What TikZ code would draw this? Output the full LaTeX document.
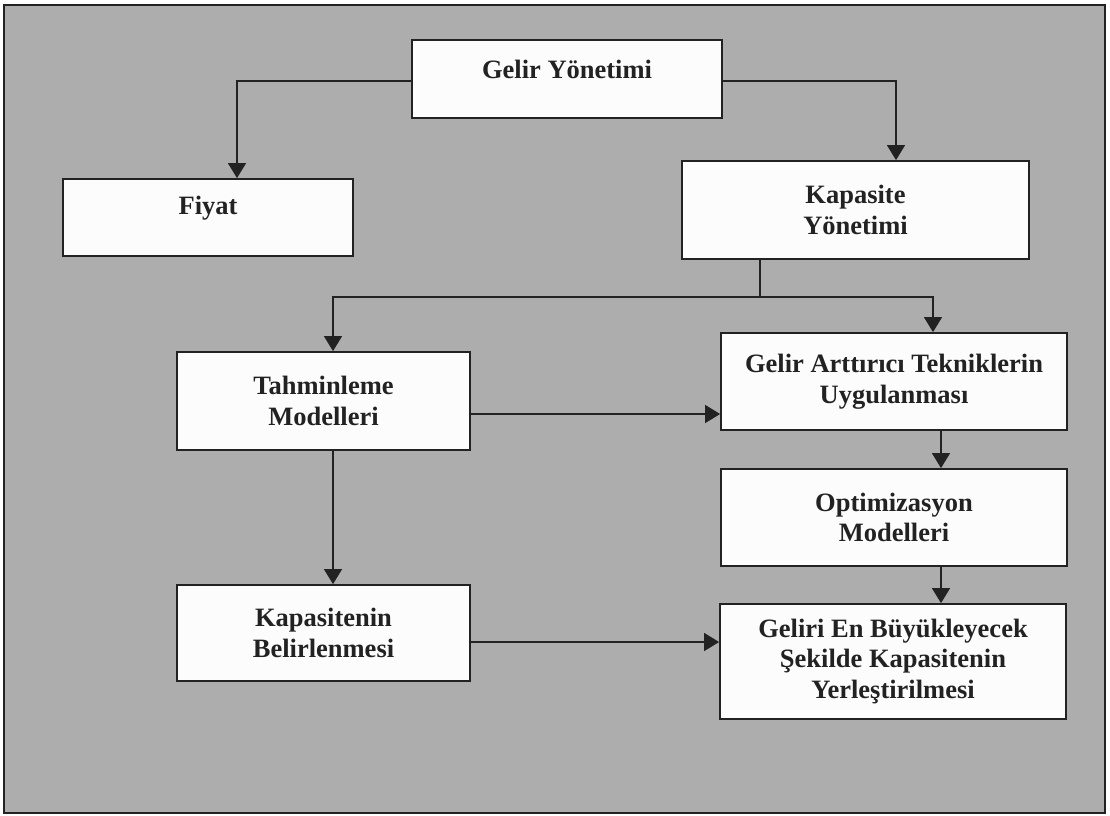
\documentclass[tikz,border=0pt]{standalone}
\usepackage{fontspec}
\setmainfont{Liberation Serif}
\usetikzlibrary{arrows.meta}
\definecolor{panelgray}{HTML}{ADADAD}
\definecolor{ink}{HTML}{222222}
\definecolor{boxfill}{HTML}{FCFCFC}
\tikzset{
  flowbox/.style={draw=ink, line width=1.8pt, fill=boxfill, inner sep=0pt,
    align=center, text=ink, font=\bfseries\fontsize{26.5}{30.5}\selectfont},
  boxlabel/.style={text=ink, inner sep=0pt, align=center,
    font=\bfseries\fontsize{26.5}{30.5}\selectfont},
  link/.style={draw=ink, line width=1.4pt},
  arr/.style={link, -{Triangle[width=18pt,length=15pt]}},
}
\begin{document}
\begin{tikzpicture}[x=1pt, y=-1pt]
  % page and grey panel
  \useasboundingbox (0,0) rectangle (1110,815);
  \fill[white] (0,0) rectangle (1110,815);
  \draw[draw=ink, line width=2pt, fill=panelgray] (4,5) rectangle (1105,813);

  % boxes
  \node[flowbox, minimum width=310pt, minimum height=78pt] (gy) at (567,79) {};
  \node[boxlabel] (gyt) at (567,69) {Gelir Yönetimi};
  \node[flowbox, minimum width=290pt, minimum height=77pt] (fi) at (208,217.5) {};
  \node[boxlabel] (fit) at (208,208) {Fiyat};
  \node[flowbox, minimum width=347pt, minimum height=98pt] (ky) at (855.5,210) {Kapasite\\Yönetimi};
  \node[flowbox, minimum width=293pt, minimum height=98pt] (tm) at (323.5,401) {Tahminleme\\Modelleri};
  \node[flowbox, minimum width=346pt, minimum height=97pt] (ga) at (894,381.5) {Gelir Arttırıcı Tekniklerin\\Uygulanması};
  \node[flowbox, minimum width=346pt, minimum height=97pt] (om) at (894,517.5) {Optimizasyon\\Modelleri};
  \node[flowbox, minimum width=293pt, minimum height=96pt] (kb) at (323.5,633) {Kapasitenin\\Belirlenmesi};
  \node[flowbox, minimum width=346pt, minimum height=115pt] (ge) at (893,661.5) {Geliri En Büyükleyecek\\Şekilde Kapasitenin\\Yerleştirilmesi};

  % connectors
  \draw[arr] (gy.west |- 0,81) -| (237,0 |- fi.north);
  \draw[arr] (gy.east |- 0,81) -| (896,0 |- ky.north);
  \draw[link] (760,0 |- ky.south) -- (760,297) coordinate (split);
  \draw[arr] (split) -| (333,0 |- tm.north);
  \draw[arr] (split) -| (933,0 |- ga.north);
  \draw[arr] (tm.east |- 0,414) -- (ga.west |- 0,414);
  \draw[arr] (333,0 |- tm.south) -- (333,0 |- kb.north);
  \draw[arr] (941,0 |- ga.south) -- (941,0 |- om.north);
  \draw[arr] (941,0 |- om.south) -- (941,0 |- ge.north);
  \draw[arr] (kb.east |- 0,642) -- (ge.west |- 0,642);
\end{tikzpicture}
\end{document}
